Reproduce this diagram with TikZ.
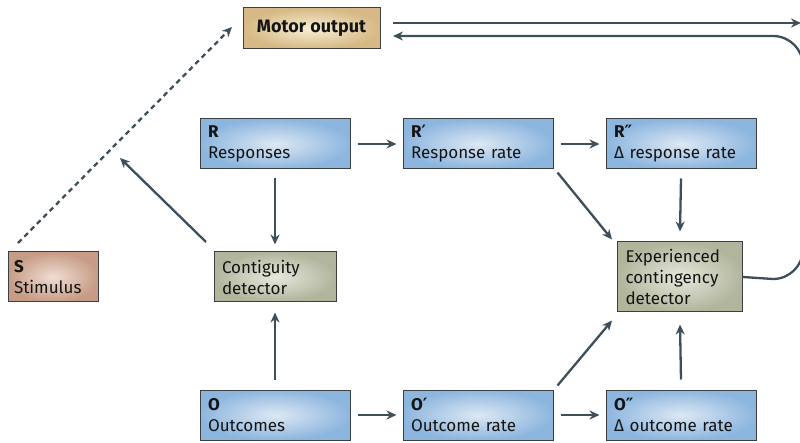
\documentclass[tikz,border=0pt]{standalone}
\usepackage{fontspec}
\setmainfont{Fira Sans}
\newfontfamily\primefont{DejaVu Sans}
\newcommand{\pr}{{\primefont\bfseries ′}}
\newcommand{\ppr}{{\primefont\bfseries ″}}
\usetikzlibrary{arrows.meta}
\definecolor{arr}{HTML}{3D4F5A}
\definecolor{bdr}{HTML}{3A3F44}
\definecolor{blueO}{HTML}{8DB6DF}
\definecolor{blueI}{HTML}{DDE8F3}
\definecolor{brnO}{HTML}{C79C86}
\definecolor{brnI}{HTML}{EFDDD3}
\definecolor{grnO}{HTML}{B1B59C}
\definecolor{grnI}{HTML}{E6E8DC}
\definecolor{tanO}{HTML}{D6B985}
\definecolor{tanI}{HTML}{F8EFD4}
\begin{document}
\begin{tikzpicture}[x=1pt,y=-1pt,
  box/.style={draw=bdr,line width=1pt,rectangle,inner xsep=9pt,inner ysep=0pt,
    align=left,font=\fontsize{17}{21}\selectfont,text=black!92},
  bluebox/.style={box,inner color=blueI,outer color=blueO,minimum width=150pt,minimum height=50pt,text width=134pt,inner xsep=8pt},
  conn/.style={draw=arr,line width=2.3pt,-{Stealth[length=10pt,width=9pt]}},
  plain/.style={draw=arr,line width=2.3pt},
  dsh/.style={draw=arr,line width=2.3pt,dash pattern=on 5pt off 4pt,-{Stealth[length=10pt,width=9pt]}}
]
\useasboundingbox (0,0) rectangle (800,443);
\clip (0,0) rectangle (800,443);
% nodes
\node[box,inner color=tanI,outer color=tanO,minimum width=137pt,minimum height=41pt,font=\fontsize{18}{20}\selectfont\bfseries,align=center] (mo) at (311.5,28.5) {Motor output};
\node[bluebox] (R) at (275,144) {\textbf{R}\\Responses};
\node[bluebox] (R1) at (478,144) {\textbf{R}\pr\\Response rate};
\node[bluebox] (R2) at (681,144) {\textbf{R}\ppr\\Δ response rate};
\node[box,inner color=brnI,outer color=brnO,minimum width=90pt,minimum height=50pt,text width=78pt,inner xsep=6pt] (S) at (53,277) {\textbf{S}\\Stimulus};
\node[box,inner color=grnI,outer color=grnO,minimum width=122pt,minimum height=50pt,text width=106pt,inner xsep=8pt] (C) at (275,277) {Contiguity\\detector};
\node[box,inner color=grnI,outer color=grnO,minimum width=125pt,minimum height=70pt,text width=109pt,inner xsep=8pt,font=\fontsize{17}{21}\selectfont] (E) at (680,277) {Experienced\\contingency\\detector};
\node[bluebox] (O) at (275,415) {\textbf{O}\\Outcomes};
\node[bluebox] (O1) at (478,415) {\textbf{O}\pr\\Outcome rate};
\node[bluebox] (O2) at (681,415) {\textbf{O}\ppr\\Δ outcome rate};
% helper coordinates
\coordinate (moR) at (393,23);
\coordinate (edgeR) at (801,23);
\coordinate (retA) at (773,279);
\coordinate (retEnd) at (393,36);
\coordinate (sTop) at (18,243);
\coordinate (dTip) at (232,27);
\coordinate (cTail) at (206,242);
\coordinate (cTip) at (120,158);
% connectors
\draw[conn] (moR) -- (edgeR);
\draw[plain,-{Stealth[length=10pt,width=9pt]}] (E.east) -- (retA) arc[start angle=90,end angle=0,radius=30] -- ++(0,-183) arc[start angle=0,end angle=-90,radius=30] -- (retEnd);
\draw[dsh] (sTop) -- (dTip);
\draw[conn] (cTail) -- (cTip);
\draw[conn] ([yshift=-9pt]R.south) -- ([yshift=7pt]C.north);
\draw[conn] ([yshift=10pt]O.north) -- ([yshift=-10pt]C.south);
\draw[conn] ([xshift=7pt]R.east) -- ([xshift=-6pt]R1.west);
\draw[conn] ([xshift=7pt]R1.east) -- ([xshift=-6pt]R2.west);
\draw[conn] ([xshift=4pt,yshift=-3pt]R1.south east) -- ([xshift=-5pt,yshift=2pt]E.north west);
\draw[conn] ([yshift=-9pt]R2.south) -- ([yshift=10pt]E.north);
\draw[conn] ([xshift=7pt]O.east) -- ([xshift=-6pt]O1.west);
\draw[conn] ([xshift=7pt]O1.east) -- ([xshift=-6pt]O2.west);
\draw[conn] ([xshift=4pt,yshift=4pt]O1.north east) -- ([xshift=-5pt,yshift=-8pt]E.south west);
\draw[conn] ([yshift=10pt]O2.north) -- ([yshift=-12pt]E.south);
\end{tikzpicture}
\end{document}
